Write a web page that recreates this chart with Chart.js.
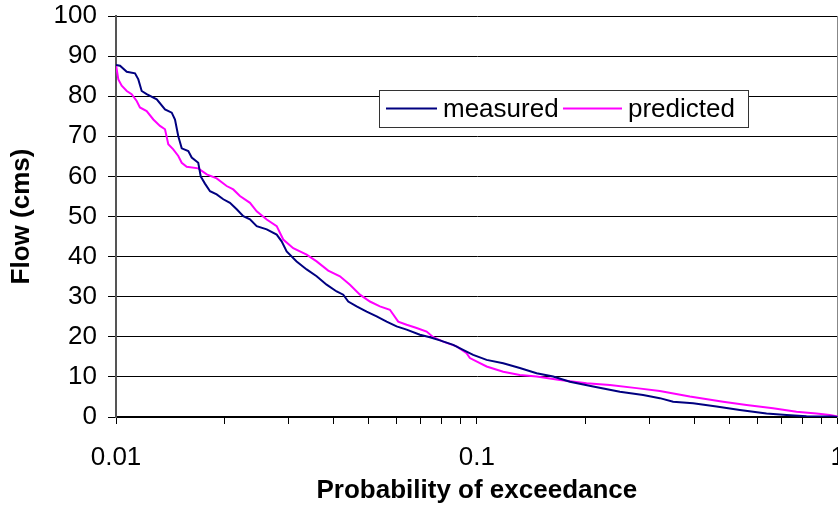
<!DOCTYPE html>
<html>
<head>
<meta charset="utf-8">
<script src="https://cdn.jsdelivr.net/npm/chart.js@4.4.1/dist/chart.umd.min.js"></script>
<style>
  html, body { margin: 0; padding: 0; background: #fff; }
  #wrap { width: 838px; height: 507px; overflow: hidden; position: relative; }
</style>
</head>
<body>
<div id="wrap"><canvas id="myChart" width="863" height="507"></canvas></div>
<script>
// flow duration curves
var measuredP = [0.01, 0.01026, 0.01071, 0.01129, 0.01153, 0.01178, 0.01216, 0.01297, 0.01367, 0.01427,
  0.01457, 0.01488, 0.01521, 0.01586, 0.01621, 0.0169, 0.01717, 0.01764, 0.01822, 0.01901,
  0.01983, 0.02069, 0.0216, 0.02253, 0.02351, 0.02454, 0.02616, 0.02788, 0.02877, 0.02971,
  0.03166, 0.03375, 0.03597, 0.03834, 0.04087, 0.04263, 0.04401, 0.04643, 0.04949, 0.05275,
  0.05622, 0.05992, 0.06388, 0.06953, 0.07411, 0.079, 0.08599, 0.09364, 0.09767, 0.1064,
  0.1183, 0.1315, 0.1464, 0.1627, 0.181, 0.21, 0.249, 0.2888, 0.3213, 0.3498,
  0.3973, 0.4613, 0.5354, 0.6346, 0.721, 0.8189, 0.9686, 1];
var measuredFlow = [87.8, 87.6, 86.1, 85.7, 84.2, 81.3, 80.5, 79.2, 76.7, 75.9,
  74.2, 70, 67, 66.3, 64.7, 63.4, 60, 58.2, 56.3, 55.5,
  54.3, 53.4, 51.8, 50.1, 49.3, 47.6, 46.8, 45.5, 43.8, 41.3,
  38.8, 36.8, 35.1, 33, 31.3, 30.5, 28.8, 27.6, 26.3, 25.1,
  23.8, 22.6, 21.8, 20.5, 19.9, 19.1, 18, 16.3, 15.5, 14.25,
  13.4, 12.2, 10.9, 10.1, 8.8, 7.6, 6.3, 5.5, 4.7, 3.8,
  3.4, 2.6, 1.75, 0.9, 0.5, 0.2, 0.1, 0];

var predictedP = [0.01, 0.01015, 0.01037, 0.01071, 0.01105, 0.01141, 0.01165, 0.01216, 0.01269, 0.01324,
  0.01367, 0.01396, 0.01441, 0.01488, 0.01521, 0.0157, 0.0169, 0.01784, 0.01901, 0.02026,
  0.02113, 0.02205, 0.02351, 0.02454, 0.02616, 0.02788, 0.02907, 0.03098, 0.03375, 0.03597,
  0.03873, 0.04174, 0.04449, 0.04742, 0.05054, 0.05386, 0.05741, 0.06054, 0.06388, 0.06809,
  0.07257, 0.07569, 0.08065, 0.08787, 0.09364, 0.09563, 0.1064, 0.1183, 0.1315, 0.1464,
  0.1698, 0.2013, 0.2336, 0.277, 0.3213, 0.3891, 0.4812, 0.5586, 0.6619, 0.7685,
  0.873, 0.9503, 1];
var predictedFlow = [87.8, 84.2, 82.6, 81.3, 80.5, 78.8, 77.2, 76.3, 74.2, 72.6,
  71.75, 68, 66.75, 65.1, 63.4, 62.4, 62, 60.5, 59.5, 57.6,
  56.75, 55.1, 53.4, 51.3, 49.25, 47.6, 44.25, 42.1, 40.5, 38.8,
  36.5, 35.1, 33, 30.5, 28.8, 27.6, 26.75, 23.8, 23, 22.2,
  21.3, 19.9, 18.8, 17.6, 15.9, 14.7, 12.6, 11.3, 10.5, 10.1,
  9.25, 8.4, 8, 7.2, 6.5, 5.1, 3.8, 3, 2.2, 1.3,
  0.9, 0.5, 0.1];

var seriesNames = ["measured", "predicted"];
var seriesColors = ["#000080", "#ff00ff"];

// tick marks on the log axis, labels only on the decades
var xTickValues = [0.01, 0.02, 0.03, 0.04, 0.05, 0.06, 0.07, 0.08, 0.09,
  0.1, 0.2, 0.3, 0.4, 0.5, 0.6, 0.7, 0.8, 0.9, 1];
var xTickLabels = ["0.01", "0.1", "1"];

var FONT = "'Liberation Sans', Arial, sans-serif";

function toPoints(xs, ys) {
  return xs.map(function (x, i) { return { x: x, y: ys[i] }; });
}

// legend box sitting inside the plot, like the Excel one
var boxLegend = {
  id: "boxLegend",
  afterDraw: function (chart) {
    var c = chart.ctx;
    var x0 = 379, y0 = 90, w = 369, h = 37;
    c.save();
    c.fillStyle = "#fff";
    c.fillRect(x0, y0, w, h);
    c.strokeStyle = "#333";
    c.lineWidth = 1;
    c.strokeRect(x0 + 0.5, y0 + 0.5, w, h);
    c.font = "26px " + FONT;
    c.textBaseline = "middle";
    c.fillStyle = "#000";
    var cy = y0 + h / 2;
    var items = [[386, 437, 443], [563, 622, 628]];
    chart.data.datasets.forEach(function (ds, i) {
      c.strokeStyle = ds.borderColor;
      c.lineWidth = 2;
      c.beginPath();
      c.moveTo(items[i][0], cy);
      c.lineTo(items[i][1], cy);
      c.stroke();
      c.fillText(ds.label, items[i][2], cy + 1);
    });
    c.restore();
  }
};

var ctx = document.getElementById("myChart").getContext("2d");
var chart = new Chart(ctx, {
  type: "line",
  data: {
    datasets: [
      {
        label: seriesNames[0],
        borderColor: seriesColors[0],
        data: toPoints(measuredP, measuredFlow)
      },
      {
        label: seriesNames[1],
        borderColor: seriesColors[1],
        data: toPoints(predictedP, predictedFlow)
      }
    ]
  },
  options: {
    responsive: false,
    animation: false,
    devicePixelRatio: 1,
    layout: { padding: { top: 16, left: 2, right: 0, bottom: 0 } },
    elements: {
      point: { radius: 0 },
      line: { borderWidth: 2, tension: 0, fill: false }
    },
    plugins: {
      legend: { display: false },
      tooltip: { enabled: false }
    },
    scales: {
      x: {
        type: "logarithmic",
        min: 0.01,
        max: 1,
        afterBuildTicks: function (scale) {
          scale.ticks = xTickValues.map(function (v) { return { value: v }; });
        },
        afterFit: function (scale) { scale.height = 90; },
        ticks: {
          autoSkip: false,
          maxRotation: 0,
          padding: 18,
          color: "#000",
          font: { family: FONT, size: 26 },
          callback: function (v) {
            var i = [0.01, 0.1, 1].indexOf(v);
            return i >= 0 ? xTickLabels[i] : "";
          }
        },
        grid: { drawOnChartArea: false, drawTicks: true, tickLength: 7, color: "#000" },
        border: { display: true, color: "#000", width: 2 },
        title: {
          display: true,
          text: "Probability of exceedance",
          color: "#000",
          font: { family: FONT, size: 26, weight: "bold" },
          padding: { top: 0, bottom: 1 }
        }
      },
      y: {
        min: 0,
        max: 100,
        afterFit: function (scale) {
          scale.width = 114;
          scale.paddingTop = 0;
          scale.paddingBottom = 0;
        },
        ticks: {
          stepSize: 10,
          padding: 11,
          color: "#000",
          font: { family: FONT, size: 26 }
        },
        grid: { color: "#000", lineWidth: 1, drawTicks: true, tickLength: 8 },
        border: { display: true, color: "#555", width: 2 },
        title: {
          display: true,
          text: "Flow (cms)",
          color: "#000",
          font: { family: FONT, size: 26, weight: "bold" },
          padding: { top: 4, bottom: 4 }
        }
      },
      yRight: {
        position: "right",
        min: 0,
        max: 100,
        afterFit: function (scale) {
          scale.width = 0;
          scale.paddingTop = 0;
          scale.paddingBottom = 0;
        },
        ticks: { display: false },
        grid: { drawOnChartArea: false, drawTicks: false },
        border: { display: true, color: "#888", width: 1 }
      }
    }
  },
  plugins: [boxLegend]
});
</script>
</body>
</html>
